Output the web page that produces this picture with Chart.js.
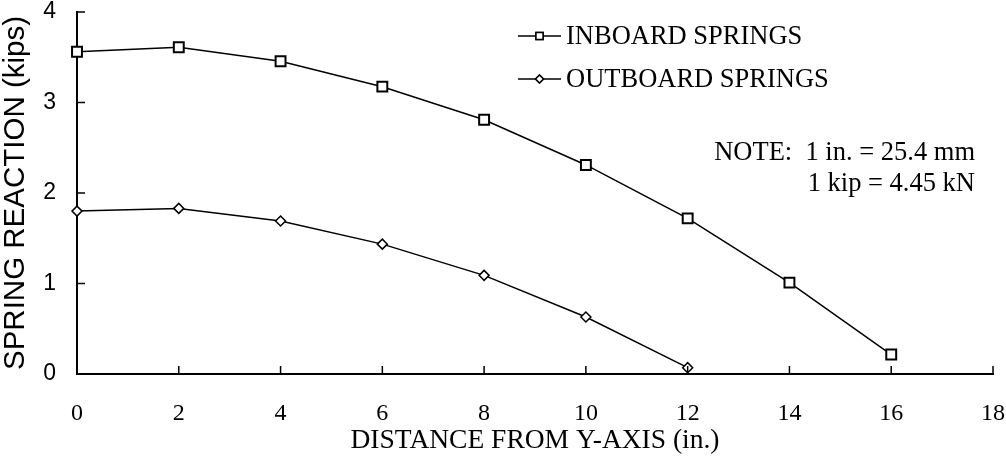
<!DOCTYPE html>
<html>
<head>
<meta charset="utf-8">
<script src="https://cdn.jsdelivr.net/npm/chart.js@4.4.1/dist/chart.umd.min.js"></script>
<style>
  html, body { margin: 0; padding: 0; background: #fff; }
  #wrap { width: 1006px; height: 460px; position: relative; }
</style>
</head>
<body>
<div id="wrap"><canvas id="c" width="1006" height="460"></canvas></div>
<script>
// Distance from Y-axis (in.)
const distance = [0, 2, 4, 6, 8, 10, 12, 14, 16];
// Spring reactions (kips)
const inboardSprings = [3.56, 3.61, 3.455, 3.175, 2.81, 2.31, 1.72, 1.01, 0.215];
const outboardSprings = [1.80, 1.83, 1.69, 1.435, 1.09, 0.63, 0.07];
const seriesNames = ['INBOARD SPRINGS', 'OUTBOARD SPRINGS'];
const noteLines = ['NOTE:  1 in. = 25.4 mm', '1 kip = 4.45 kN'];
const xTitle = 'DISTANCE FROM Y-AXIS (in.)';
const yTitle = 'SPRING REACTION (kips)';

const SERIF = '"Liberation Serif", "Times New Roman", serif';
const SANS = '"Liberation Sans", Arial, sans-serif';

const toPoints = (ys) => ys.map((y, i) => ({ x: distance[i], y }));

// Short tick marks pointing into the plot area
const innerTicks = {
  id: 'innerTicks',
  afterDraw(chart) {
    const { ctx, chartArea, scales } = chart;
    const len = 8;
    ctx.save();
    ctx.strokeStyle = '#000';
    ctx.lineWidth = 1.5;
    ctx.beginPath();
    scales.x.ticks.forEach((t) => {
      const px = scales.x.getPixelForValue(t.value);
      ctx.moveTo(px, chartArea.bottom);
      ctx.lineTo(px, chartArea.bottom - len);
    });
    scales.y.ticks.forEach((t) => {
      const py = scales.y.getPixelForValue(t.value);
      ctx.moveTo(chartArea.left, py);
      ctx.lineTo(chartArea.left + len, py);
    });
    ctx.stroke();
    ctx.restore();
  }
};

// Legend entries and unit note drawn inside the plot
const annotations = {
  id: 'annotations',
  afterDraw(chart) {
    const { ctx } = chart;
    ctx.save();
    ctx.fillStyle = '#000';
    ctx.strokeStyle = '#000';
    const rows = [36, 79];
    chart.data.datasets.forEach((ds, i) => {
      const y = rows[i];
      ctx.lineWidth = 1.5;
      ctx.beginPath();
      ctx.moveTo(518, y);
      ctx.lineTo(561, y);
      ctx.stroke();
      Chart.helpers.drawPoint(ctx, {
        pointStyle: ds.pointStyle,
        radius: ds.legendRadius,
        borderWidth: 1.5
      }, 539.5, y);
      ctx.fillStyle = '#fff';
      ctx.fill();
      ctx.stroke();
      ctx.fillStyle = '#000';
      ctx.font = '26.5px ' + SERIF;
      ctx.textAlign = 'left';
      ctx.textBaseline = 'middle';
      ctx.fillText(ds.label, 566, y + 1);
    });
    ctx.font = '26.5px ' + SERIF;
    ctx.textAlign = 'right';
    ctx.textBaseline = 'alphabetic';
    ctx.fillText(noteLines[0], 975, 160);
    ctx.fillText(noteLines[1], 975, 191);
    ctx.restore();
  }
};

new Chart(document.getElementById('c'), {
  type: 'line',
  data: {
    datasets: [
      {
        label: seriesNames[0],
        data: toPoints(inboardSprings),
        borderColor: '#000',
        borderWidth: 1.5,
        pointStyle: 'rect',
        pointRadius: 7,
        legendRadius: 5,
        pointBorderWidth: 2,
        pointBackgroundColor: '#fff',
        pointBorderColor: '#000',
        clip: false
      },
      {
        label: seriesNames[1],
        data: toPoints(outboardSprings),
        borderColor: '#000',
        borderWidth: 1.5,
        pointStyle: 'rectRot',
        pointRadius: 5,
        legendRadius: 4,
        pointBorderWidth: 1.5,
        pointBackgroundColor: '#fff',
        pointBorderColor: '#000',
        clip: false
      }
    ]
  },
  options: {
    responsive: false,
    animation: false,
    devicePixelRatio: 1,
    layout: { padding: { top: 12, right: 13, left: 0, bottom: 0 } },
    plugins: {
      legend: { display: false },
      tooltip: { enabled: false }
    },
    elements: { line: { tension: 0 } },
    scales: {
      x: {
        type: 'linear',
        min: 0,
        max: 18,
        afterFit(scale) { scale.height = 86; },
        ticks: {
          stepSize: 2,
          color: '#000',
          padding: 0,
          font: { family: SERIF, size: 24 }
        },
        // outer tick marks kept invisible; they only space the labels
        grid: { drawOnChartArea: false, drawTicks: true, tickLength: 25, tickColor: 'rgba(0,0,0,0)' },
        border: { display: true, color: '#000', width: 2 },
        title: {
          display: true,
          text: xTitle,
          color: '#000',
          font: { family: SERIF, size: 27.5, lineHeight: 1 },
          padding: { top: 0, bottom: 5 }
        }
      },
      y: {
        type: 'linear',
        min: 0,
        max: 4,
        afterFit(scale) { scale.width = 77; },
        ticks: {
          stepSize: 1,
          color: '#000',
          padding: 0,
          font: { family: SANS, size: 23, lineHeight: 1 }
        },
        grid: { drawOnChartArea: false, drawTicks: true, tickLength: 21, tickColor: 'rgba(0,0,0,0)' },
        border: { display: true, color: '#000', width: 2 },
        title: {
          display: true,
          text: yTitle,
          color: '#000',
          font: { family: SANS, size: 29.5, lineHeight: 1 },
          padding: { top: 1, bottom: 0 }
        }
      }
    }
  },
  plugins: [innerTicks, annotations]
});
</script>
</body>
</html>
